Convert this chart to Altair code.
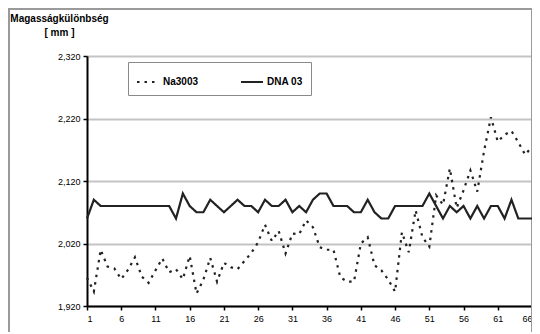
import altair as alt
import pandas as pd

# ---- data ----
x_index = list(range(1, 67))
na3003 = [1965, 1943, 2010, 1983, 1980, 1963, 1978, 1998, 1967, 1957,
          1977, 1996, 1974, 1979, 1963, 2000, 1940, 1962, 1997, 1959,
          1989, 1982, 1979, 1992, 2005, 2022, 2050, 2024, 2040, 2004,
          2036, 2035, 2057, 2046, 2014, 2010, 2010, 1966, 1959, 1959,
          2020, 2030, 1985, 1977, 1962, 1943, 2038, 2006, 2073, 2030,
          2015, 2097, 2082, 2140, 2077, 2105, 2137, 2103, 2168, 2222,
          2183, 2194, 2200, 2182, 2162, 2175]
dna03 = [2060, 2090, 2080, 2080, 2080, 2080, 2080, 2080, 2080, 2080,
         2080, 2080, 2080, 2060, 2100, 2080, 2070, 2070, 2090, 2080,
         2070, 2080, 2090, 2080, 2080, 2070, 2090, 2080, 2080, 2090,
         2070, 2080, 2070, 2090, 2100, 2100, 2080, 2080, 2080, 2070,
         2070, 2090, 2070, 2060, 2060, 2080, 2080, 2080, 2080, 2080,
         2100, 2080, 2060, 2080, 2070, 2080, 2060, 2080, 2060, 2080,
         2080, 2060, 2090, 2060, 2060, 2060]
series_names = ["Na3003", "DNA 03"]
y_ticks = [1920, 2020, 2120, 2220, 2320]
x_ticks = list(range(1, 67, 5))
y_title = ["Magasságkülönbség", "[ mm ]"]

rows = []
for i in range(len(x_index)):
    rows.append({"x": x_index[i], "value": na3003[i], "series": series_names[0]})
    rows.append({"x": x_index[i], "value": dna03[i], "series": series_names[1]})
df = pd.DataFrame(rows)

FONT = "Liberation Sans"

legend = alt.Legend(
    title=None, orient="none", legendX=41, legendY=6, direction="horizontal",
    symbolType="stroke", symbolSize=484, symbolStrokeWidth=2,
    labelFont=FONT, labelFontSize=10, labelFontWeight="bold", labelColor="#000",
    labelOffset=3, columnPadding=38, padding=8,
    strokeColor="#8a8a8a", fillColor="#ffffff",
)

lines = alt.Chart(df).mark_line(strokeWidth=2.2, strokeCap="butt").encode(
    x=alt.X("x:Q",
            scale=alt.Scale(domain=[1, 66], nice=False, zero=False),
            axis=alt.Axis(values=x_ticks, title=None, grid=False, format="d",
                          domainColor="#000", domainWidth=2,
                          tickColor="#000", tickSize=4, tickWidth=1.5,
                          labelFont=FONT, labelFontSize=9, labelColor="#000",
                          labelPadding=4, labelFlush=True)),
    y=alt.Y("value:Q",
            scale=alt.Scale(domain=[1920, 2320], nice=False, zero=False),
            axis=alt.Axis(values=y_ticks, format=",d", title=y_title,
                          titleAngle=0, titleAlign="center", titleBaseline="alphabetic",
                          titleX=-28, titleY=-35, titleFont=FONT, titleFontSize=10,
                          titleFontWeight="bold", titleColor="#000", titleLineHeight=14,
                          domainColor="#000", domainWidth=2,
                          tickColor="#000", tickSize=4, tickWidth=1.5,
                          labelFont=FONT, labelFontSize=9, labelColor="#000",
                          labelPadding=3,
                          gridColor="#c4c4c4", gridWidth=2)),
    color=alt.Color("series:N",
                    scale=alt.Scale(domain=series_names, range=["#222222", "#222222"]),
                    legend=legend),
    strokeDash=alt.StrokeDash("series:N",
                              scale=alt.Scale(domain=series_names, range=[[2.5, 5], [1, 0]]),
                              legend=legend),
)

frame = alt.Chart(pd.DataFrame({"a": [0]})).mark_rect(
    fillOpacity=0, stroke="#9a9a9a", strokeWidth=2
).encode(
    x=alt.value(-78), x2=alt.value(445), y=alt.value(-47), y2=alt.value(300)
)

chart = alt.layer(frame, lines).properties(
    width=445, height=250,
    autosize=alt.AutoSizeParams(type="none"),
    padding={"left": 79, "top": 48, "right": 0, "bottom": 26},
).configure_view(strokeWidth=0)

chart.save("out.html", embed_options={"renderer": "svg", "actions": False})
